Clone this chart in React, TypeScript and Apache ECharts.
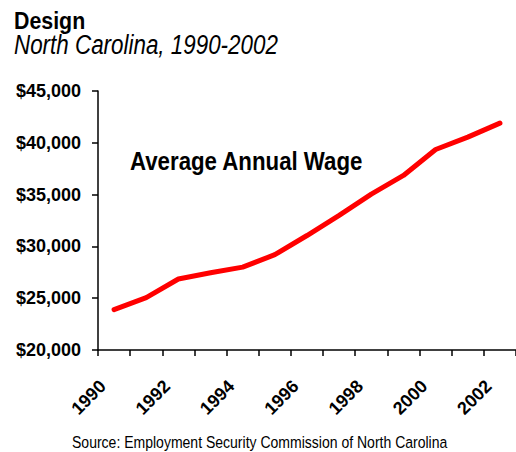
import React, { useEffect, useRef } from "react";
import * as echarts from "echarts";

const years = ["1990", "1991", "1992", "1993", "1994", "1995", "1996", "1997", "1998", "1999", "2000", "2001", "2002"];
const wages = [23900, 25050, 26850, 27450, 28000, 29200, 31050, 33000, 35050, 36850, 39350, 40550, 41900];
const yMin = 20000;
const yMax = 45000;
const yStep = 5000;

const title = "Design";
const subtitle = "North Carolina, 1990-2002";
const seriesLabel = "Average Annual Wage";
const source = "Source: Employment Security Commission of North Carolina";

const SANS = '"Liberation Sans", Arial, sans-serif';

export default function App() {
  const ref = useRef<HTMLDivElement>(null);
  useEffect(() => {
    if (!ref.current) return;
    const chart = echarts.init(ref.current, undefined, { renderer: "svg" });
    chart.setOption({
      animation: false,
      backgroundColor: "#ffffff",
      grid: { left: 98, right: -2, top: 91, bottom: 102, containLabel: false },
      xAxis: {
        type: "category",
        data: years,
        boundaryGap: true,
        axisLine: { show: true, lineStyle: { color: "#000", width: 1.5 } },
        axisTick: { show: true, interval: 0, length: 6, inside: false, lineStyle: { color: "#000", width: 1.5 } },
        axisLabel: {
          interval: 1,
          rotate: 45,
          margin: 22,
          padding: [0, 16, 0, 0],
          color: "#000",
          fontFamily: SANS,
          fontWeight: "bold",
          fontSize: 18,
        },
        splitLine: { show: false },
      },
      yAxis: {
        type: "value",
        min: yMin,
        max: yMax,
        interval: yStep,
        axisLine: { show: true, lineStyle: { color: "#000", width: 1.5 } },
        axisTick: { show: true, length: 6, lineStyle: { color: "#000", width: 1.5 } },
        axisLabel: {
          margin: 17,
          color: "#000",
          fontFamily: SANS,
          fontWeight: "bold",
          fontSize: 18,
          formatter: (v: number) => "$" + v.toLocaleString("en-US"),
        },
        splitLine: { show: false },
      },
      series: [
        {
          type: "line",
          data: wages,
          showSymbol: false,
          symbol: "none",
          lineStyle: { color: "#ff0000", width: 5, cap: "round", join: "round" },
        },
      ],
      graphic: [
        {
          type: "text",
          x: 14,
          y: 20.5,
          scaleX: 0.89,
          style: { text: title, font: `bold 24px ${SANS}`, fill: "#000", verticalAlign: "middle", align: "left" },
        },
        {
          type: "text",
          x: 14,
          y: 44,
          scaleX: 0.8,
          style: { text: subtitle, font: `italic 28px ${SANS}`, fill: "#000", verticalAlign: "middle", align: "left" },
        },
        {
          type: "text",
          x: 130,
          y: 162,
          scaleX: 0.89,
          style: { text: seriesLabel, font: `bold 25px ${SANS}`, fill: "#000", verticalAlign: "middle", align: "left" },
        },
        {
          type: "text",
          x: 72,
          y: 442.5,
          scaleX: 0.85,
          style: { text: source, font: `16.5px ${SANS}`, fill: "#000", verticalAlign: "middle", align: "left" },
        },
      ],
    });
    return () => chart.dispose();
  }, []);
  return <div ref={ref} style={{ width: 516, height: 452, position: "absolute", left: 0, top: 0 }} />;
}
